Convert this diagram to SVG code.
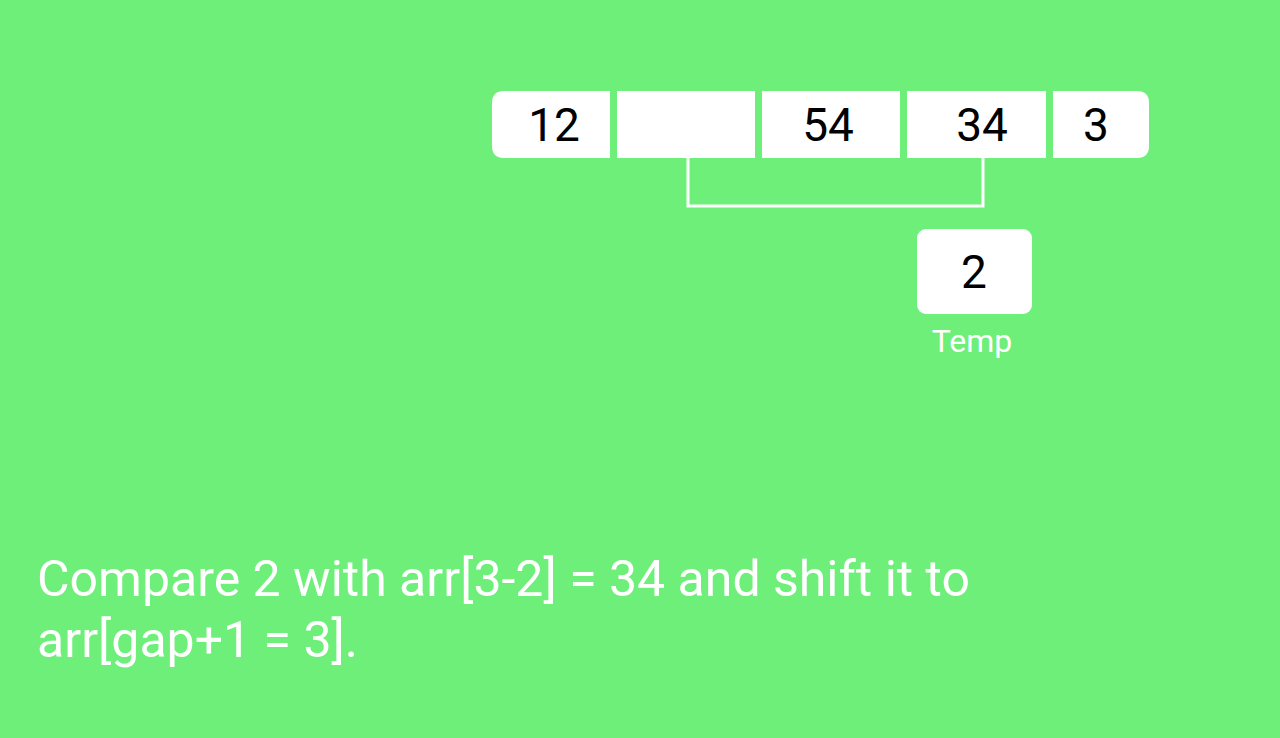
<svg xmlns="http://www.w3.org/2000/svg" width="1280" height="738" viewBox="0 0 1280 738">
<style>
.cell{fill:#ffffff}
.num{font-family:Roboto,"Liberation Sans",sans-serif;font-size:46px;fill:#000000;text-anchor:middle}
.lbl{font-family:Roboto,"Liberation Sans",sans-serif;fill:#ffffff}
.conn{fill:none;stroke:#ffffff;stroke-width:3}
</style>
<rect x="0" y="0" width="1280" height="738" fill="#6def79"/>
<g id="array">
<g id="cell0"><path class="cell" d="M504,91 H610 V158 H504 Q492,158 492,146 V103 Q492,91 504,91 Z"/><text class="num" x="554" y="141">12</text></g>
<g id="cell1"><rect class="cell" x="617" y="91" width="138" height="67"/></g>
<g id="cell2"><rect class="cell" x="762" y="91" width="138" height="67"/><text class="num" x="828" y="141">54</text></g>
<g id="cell3"><rect class="cell" x="907" y="91" width="139" height="67"/><text class="num" x="982" y="141">34</text></g>
<g id="cell4"><path class="cell" d="M1053,91 H1137 Q1149,91 1149,103 V146 Q1149,158 1137,158 H1053 Z"/><text class="num" x="1096" y="141">3</text></g>
</g>
<g id="connectors">
<path class="conn" d="M688,158 V206 H983 V158"/>
</g>
<g id="temp">
<rect class="cell" x="917" y="229" width="115" height="85" rx="9"/>
<text class="num" x="974" y="288">2</text>
<text class="lbl" x="972" y="352" font-size="32" text-anchor="middle">Temp</text>
</g>
<g id="caption">
<text class="lbl" x="37" y="596" font-size="50">Compare 2 with arr[3-2] = 34 and shift it to</text>
<text class="lbl" x="37" y="657" font-size="50">arr[gap+1 = 3].</text>
</g>
</svg>
